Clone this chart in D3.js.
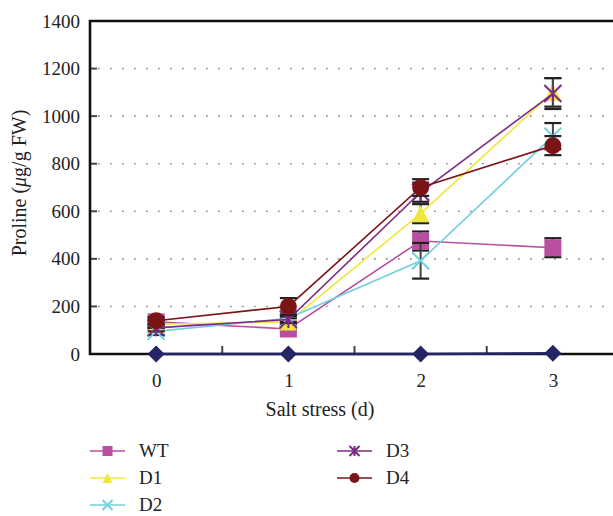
<!DOCTYPE html>
<html>
<head>
<meta charset="utf-8">
<script src="https://cdn.jsdelivr.net/npm/d3@7"></script>
<style>
  body { margin: 0; background: #fff; }
  svg text { font-family: "Liberation Serif", "Times New Roman", Times, "DejaVu Serif", serif; fill: #222; }
</style>
</head>
<body>
<div id="chart"></div>
<script>
// data
const days = [0, 1, 2, 3];
const yTicks = [0, 200, 400, 600, 800, 1000, 1200, 1400];

const wtVals = [135, 105, 475, 447];
const wtErr  = [15, 10, 40, 40];
const d1Vals = [125, 135, 590, 1100];
const d1Err  = [15, 15, 40, 60];
const d2Vals = [95, 150, 392, 916];
const d2Err  = [15, 15, 75, 55];
const d3Vals = [110, 145, 680, 1095];
const d3Err  = [15, 15, 40, 65];
const d4Vals = [140, 200, 700, 876];
const d4Err  = [15, 35, 35, 40];
const ctrlVals = [0, 0, 0, 3];

const series = [
  {name: "WT", vals: wtVals, err: wtErr, color: "#b84fa0", shape: "square"},
  {name: "D1", vals: d1Vals, err: d1Err, color: "#f0e63c", shape: "triangle"},
  {name: "D2", vals: d2Vals, err: d2Err, color: "#6fd0df", shape: "x"},
  {name: "D3", vals: d3Vals, err: d3Err, color: "#7c2b82", shape: "star"},
  {name: "D4", vals: d4Vals, err: d4Err, color: "#7b1417", shape: "circle"},
  {name: "CK", vals: ctrlVals, err: null, color: "#252466", shape: "diamond", noLegend: true}
];

const W = 613, H = 516;
const svg = d3.select("#chart").append("svg")
  .attr("width", W).attr("height", H);

const x = d3.scaleLinear().domain([-0.5, 3.5]).range([90, 619]);
const y = d3.scaleLinear().domain([0, 1400]).range([354, 21]);

// dotted grid
svg.append("g").selectAll("line")
  .data(yTicks.filter(d => d > 0 && d < 1400))
  .join("line")
  .attr("x1", x(-0.5) + 8).attr("x2", W)
  .attr("y1", d => y(d)).attr("y2", d => y(d))
  .attr("stroke", "#8a8a8a").attr("stroke-width", 1.6)
  .attr("stroke-dasharray", "1.6,10.4");

// y axis
const yAxis = svg.append("g")
  .attr("transform", `translate(${x(-0.5)},0)`)
  .call(d3.axisLeft(y).tickValues(yTicks).tickSize(0).tickPadding(10).tickFormat(d3.format("d")))
  .attr("font-family", null).attr("font-size", 19);
yAxis.select(".domain").remove();

// inner y tick marks
svg.append("g").selectAll("line")
  .data(yTicks.filter(d => d > 0 && d < 1400))
  .join("line")
  .attr("x1", x(-0.5)).attr("x2", x(-0.5) + 7)
  .attr("y1", d => y(d)).attr("y2", d => y(d))
  .attr("stroke", "#444").attr("stroke-width", 2);

// x axis labels
const xAxis = svg.append("g")
  .attr("transform", `translate(0,${y(0)})`)
  .call(d3.axisBottom(x).tickValues(days).tickSize(0).tickPadding(20).tickFormat(d3.format("d")))
  .attr("font-family", null).attr("font-size", 19);
xAxis.select(".domain").remove();

// half-step tick marks on the x axis
svg.append("g").selectAll("line")
  .data([0.5, 1.5, 2.5])
  .join("line")
  .attr("x1", d => x(d)).attr("x2", d => x(d))
  .attr("y1", y(0)).attr("y2", y(0) - 8)
  .attr("stroke", "#444").attr("stroke-width", 2);

// frame
svg.append("path")
  .attr("d", `M${W},${y(1400)}H${x(-0.5)}V${y(0)}H${W}`)
  .attr("fill", "none").attr("stroke", "#111").attr("stroke-width", 2.6);

// axis titles
svg.append("text")
  .attr("x", 320).attr("y", 416)
  .attr("text-anchor", "middle")
  .style("font-size", "20px")
  .text("Salt stress (d)");

const yt = svg.append("text")
  .attr("transform", "translate(26,183) rotate(-90)")
  .attr("text-anchor", "middle")
  .style("font-size", "20px");
yt.append("tspan").text("Proline (");
yt.append("tspan").style("font-style", "italic").text("μ");
yt.append("tspan").text("g/g FW)");

function drawMarker(g, shape, color, s) {
  const r = s / 2;
  if (shape === "square") {
    g.append("rect").attr("x", -r).attr("y", -r).attr("width", s).attr("height", s).attr("fill", color);
  } else if (shape === "triangle") {
    g.append("path").attr("d", `M0,${-r}L${r},${r}L${-r},${r}Z`).attr("fill", color);
  } else if (shape === "circle") {
    g.append("circle").attr("r", r).attr("fill", color);
  } else if (shape === "diamond") {
    g.append("path").attr("d", `M0,${-r}L${r},0L0,${r}L${-r},0Z`).attr("fill", color);
  } else if (shape === "x") {
    g.append("path").attr("d", `M${-r},${-r}L${r},${r}M${-r},${r}L${r},${-r}`)
      .attr("stroke", color).attr("stroke-width", 2).attr("fill", "none");
  } else if (shape === "star") {
    g.append("path").attr("d", `M${-r},${-r}L${r},${r}M${-r},${r}L${r},${-r}M0,${-r}V${r}`)
      .attr("stroke", color).attr("stroke-width", 2).attr("fill", "none");
  }
}

const line = d3.line().x((d, i) => x(days[i])).y(d => y(d));
const msize = {square: 17, triangle: 17, x: 17, star: 17, circle: 17, diamond: 17};

series.forEach(s => {
  const g = svg.append("g");
  g.append("path")
    .datum(s.vals)
    .attr("d", line)
    .attr("fill", "none")
    .attr("stroke", s.color)
    .attr("stroke-width", s.noLegend ? 2.6 : 1.6);

  if (s.err) {
    s.vals.forEach((v, i) => {
      const cx = x(days[i]);
      const lo = y(v - s.err[i]), hi = y(v + s.err[i]);
      g.append("line").attr("x1", cx).attr("x2", cx).attr("y1", lo).attr("y2", hi)
        .attr("stroke", "#444").attr("stroke-width", 2);
      [lo, hi].forEach(yy => g.append("line")
        .attr("x1", cx - 8.5).attr("x2", cx + 8.5).attr("y1", yy).attr("y2", yy)
        .attr("stroke", "#222").attr("stroke-width", 2.2));
    });
  }

  s.vals.forEach((v, i) => {
    const mg = g.append("g").attr("transform", `translate(${x(days[i])},${y(v)})`);
    drawMarker(mg, s.shape, s.color, msize[s.shape]);
  });
});

// legend
const legendPos = [
  {col: 0, row: 0}, {col: 0, row: 1}, {col: 0, row: 2},
  {col: 1, row: 0}, {col: 1, row: 1}
];
series.filter(s => !s.noLegend).forEach((s, i) => {
  const p = legendPos[i];
  const lx = p.col === 0 ? 90 : 337;
  const ly = 451 + p.row * 27;
  const g = svg.append("g").attr("transform", `translate(${lx},${ly})`);
  g.append("line").attr("x1", 0).attr("x2", 35).attr("y1", 0).attr("y2", 0)
    .attr("stroke", s.color).attr("stroke-width", 1.6);
  const mg = g.append("g").attr("transform", "translate(17.5,0)");
  drawMarker(mg, s.shape, s.color, 10);
  g.append("text").attr("x", 49).attr("y", 0).attr("dy", "0.33em")
    .style("font-size", "19px").text(s.name);
});
</script>
</body>
</html>
